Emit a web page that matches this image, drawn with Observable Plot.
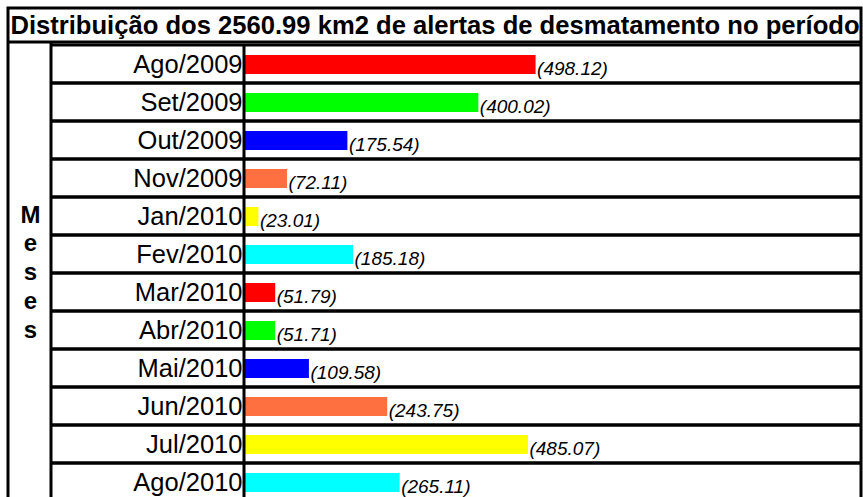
<!DOCTYPE html>
<html>
<head>
<meta charset="utf-8">
<script src="https://cdn.jsdelivr.net/npm/d3@7"></script>
<script src="https://cdn.jsdelivr.net/npm/@observablehq/plot@0.6"></script>
<style>
  html, body { margin: 0; padding: 0; background: #ffffff; }
  #chart svg { display: block; }
</style>
</head>
<body>
<div id="chart"></div>
<script>
const title = "Distribuição dos 2560.99 km2 de alertas de desmatamento no período";
const axisLabel = "Meses";
const months = ["Ago/2009","Set/2009","Out/2009","Nov/2009","Jan/2010","Fev/2010","Mar/2010","Abr/2010","Mai/2010","Jun/2010","Jul/2010","Ago/2010"];
const values = [498.12, 400.02, 175.54, 72.11, 23.01, 185.18, 51.79, 51.71, 109.58, 243.75, 485.07, 265.11];
const colors = ["#FF0000","#00FF00","#0000FF","#FF7040","#FFFF00","#00FFFF","#FF0000","#00FF00","#0000FF","#FF7040","#FFFF00","#00FFFF"];

const data = months.map((m, i) => ({month: m, value: values[i], color: colors[i]}));

const W = 863, H = 497;
const font = "'Liberation Sans', Arial, Helvetica, sans-serif";

function tableGrid(index, scales, values, dims) {
  const x = scales.x, y = scales.y;
  const bw = y(months[1]) - y(months[0]);
  const left = 8, labelLeft = 51, barLeft = x(0) - 1, right = dims.width - 2;
  const top = 8, titleBottom = 42, bottom = dims.height + 10;
  const g = d3.create("svg:g").attr("fill", "none").attr("stroke", "#000");
  g.append("rect").attr("x", left).attr("y", top).attr("width", right - left).attr("height", bottom - top).attr("stroke-width", 3);
  g.append("line").attr("x1", left).attr("x2", right).attr("y1", titleBottom).attr("y2", titleBottom).attr("stroke-width", 3);
  g.append("line").attr("x1", labelLeft).attr("x2", labelLeft).attr("y1", titleBottom).attr("y2", bottom).attr("stroke-width", 3);
  g.append("line").attr("x1", barLeft).attr("x2", barLeft).attr("y1", y(months[0])).attr("y2", bottom).attr("stroke-width", 3);
  months.forEach(m => {
    const y0 = y(m);
    g.append("line").attr("x1", labelLeft).attr("x2", right).attr("y1", y0).attr("y2", y0).attr("stroke-width", 3);
    g.append("line").attr("x1", labelLeft).attr("x2", right).attr("y1", y0 + bw).attr("y2", y0 + bw).attr("stroke-width", 3);
  });
  return g.node();
}

const chart = Plot.plot({
  width: W,
  height: H,
  margin: 0,
  style: {fontFamily: font, background: "#ffffff", color: "#000"},
  x: {domain: [0, 1056], range: [245, 861], axis: null},
  y: {domain: months, range: [44, 501], padding: 0, axis: null},
  marks: [
    Plot.barX(data, {x: "value", y: "month", fill: "color", insetTop: 10, insetBottom: 9}),
    Plot.text(data, {x: "value", y: "month", text: d => `(${d.value.toFixed(2)})`, textAnchor: "start", dx: 1, dy: 4, fontSize: 19, fontStyle: "italic", fill: "#000"}),
    Plot.text(data, {x: 0, y: "month", text: "month", textAnchor: "end", dx: -3, fontSize: 25.5, fill: "#000"}),
    Plot.text([title], {frameAnchor: "top", text: d => d, lineAnchor: "middle", textAnchor: "middle", dx: 3, dy: 25, fontSize: 25.6, fontWeight: "bold", fill: "#000"}),
    Plot.text([axisLabel.split("").join("\n")], {frameAnchor: "left", text: d => d, textAnchor: "middle", lineAnchor: "middle", dx: 30, dy: 22, fontSize: 24, lineHeight: 1.2, fontWeight: "bold", fill: "#000"}),
    tableGrid
  ]
});
document.getElementById("chart").appendChild(chart);
</script>
</body>
</html>
